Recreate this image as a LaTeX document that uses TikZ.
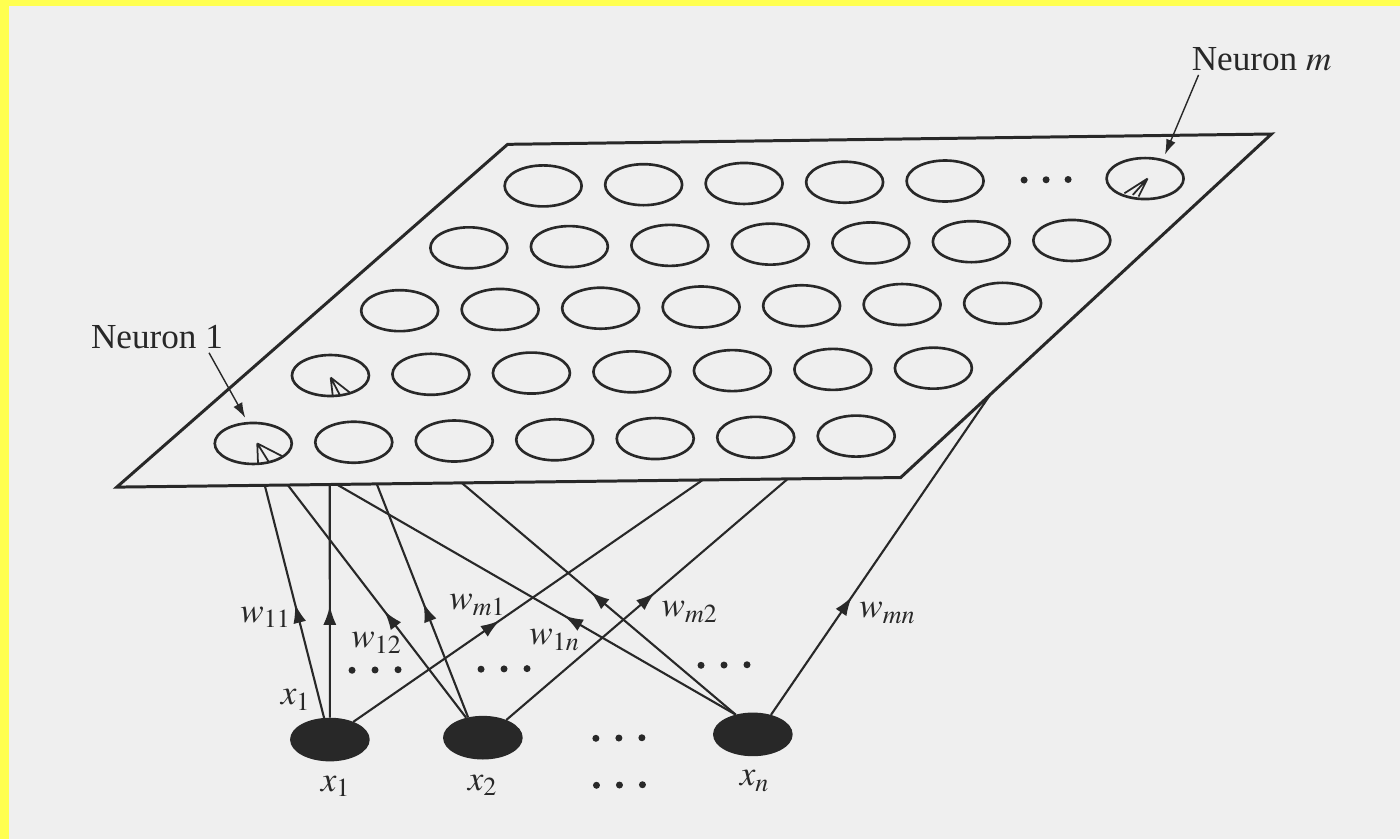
\documentclass[tikz,border=0pt]{standalone}
\usepackage{mathptmx}
\usepackage{fontspec}
\setmainfont{Liberation Serif}
\usetikzlibrary{shapes.geometric,arrows.meta,decorations.markings,calc}

\definecolor{ink}{RGB}{40,40,40}
\definecolor{paper}{RGB}{239,239,239}
\definecolor{scanyellow}{RGB}{255,255,80}

\tikzset{
  neuron/.style={ellipse, draw=ink, line width=0.75pt, minimum width=7.7mm, minimum height=4.1mm, inner sep=0pt},
  input/.style={neuron, fill=ink},
  sheet/.style={draw=ink, line width=0.85pt, line join=miter},
  wire/.style={draw=ink, line width=0.6pt},
  flow/.style={decoration={markings, mark=at position #1 with {\arrow{Latex[length=1.9mm,width=1.3mm]}}}, postaction={decorate}},
  lab/.style={text=ink, font=\fontsize{10}{12}\selectfont, inner sep=1pt},
  pointer/.style={draw=ink, line width=0.4pt, -{Latex[length=1.5mm,width=1mm]}},
  vec/.style={draw=ink, line width=0.5pt},
}

\begin{document}
\begin{tikzpicture}[x=0.1mm, y=-0.1mm]
    % page and scan border
    \fill[paper] (0,0) rectangle (1400,839);
    \fill[scanyellow] (0,0) rectangle (1400,6);
    \fill[scanyellow] (0,0) rectangle (9,839);
    \useasboundingbox (0,0) rectangle (1400,839);

    \begin{scope}[rotate around={0.7:(700,420)}]
    % output sheet
    \coordinate (bl) at (116,480);
    \coordinate (br) at (900,480);
    \coordinate (tr) at (1275,141);
    \coordinate (tl) at (511,142);
    \draw[sheet] (bl) -- (br) -- (tr) -- (tl) -- cycle;

    % neurons, bottom row first
    \foreach \r/\y/\x in {0/438/253, 1/371/331, 2/307/401, 3/245/471}
        \foreach \j in {0,...,6}
            \node[neuron] (n\r\j) at (\x+100.5*\j,\y) {};
    \foreach \j in {0,...,4}
        \node[neuron] (n4\j) at (546+100.5*\j,184) {};
    \node[neuron] (nm) at (1148,184) {};
    \foreach \dx in {-22,0,22}
        \fill[ink] (1049+\dx,184) circle (0.35mm);

    % winning vectors inside the neurons
    \begin{scope}[shift={(n00)}]
        \draw[vec] (4,0) -- (4.5,19.5) (4,0) -- (15.5,19) (4,0) -- (28.6,13);
    \end{scope}
    \begin{scope}[shift={(n10)}]
        \draw[vec] (0.2,2) -- (2,19.5) (0.2,2) -- (8.7,18.7) (0.2,2) -- (18.8,17);
    \end{scope}
    \begin{scope}[shift={(nm)}]
        \draw[vec] (2.6,0) -- (-20.8,14.5) (2.6,0) -- (-12.4,16.2) (2.6,0) -- (-6.7,18);
    \end{scope}

    \node[lab] (lab1) at (158,330) {Neuron 1};
    \node[lab] (labm) at (1266,66) {Neuron $m$};
    \draw[pointer] ([xshift=-1.8mm]lab1.south east) -- ([xshift=-0.8mm,yshift=0.4mm]n00.north);
    \draw[pointer] ([xshift=1.1mm]labm.south west) -- ([xshift=2mm,yshift=0.2mm]nm.north);

    % inputs
    \node[input] (x1) at (326,735) {};
    \node[input] (x2) at (479,735) {};
    \node[input] (xn) at (749,735) {};
    \node[lab] (lx1) at (331.5,781.6) {$x_1$};
    \node[lab] (lx2) at (478.5,782.4) {$x_2$};
    \node[lab] (lxn) at (750.6,781.7) {$x_n$};
    \foreach \dx in {-23,0,23} {
        \fill[ink] (615+\dx,737) circle (0.35mm);
        \fill[ink] (615+\dx,784) circle (0.35mm);
    }

    % weights
    \coordinate (e11) at (264,480);
    \coordinate (e21) at (329,480);
    \coordinate (em1) at (702,480);
    \coordinate (e12) at (287,480);
    \coordinate (e22) at (376,480);
    \coordinate (em2) at (787,480);
    \coordinate (e1n) at (336,480);
    \coordinate (e2n) at (461,480);
    \coordinate (emn) at (990,399);

    \draw[wire, flow=0.49] (x1.105) -- (e11);
    \draw[wire, flow=0.48] (x1.north) -- (e21);
    \draw[wire, flow=0.42] (x1.37) -- (em1);
    \draw[wire, flow=0.46] (x2.130) -- (e12);
    \draw[wire, flow=0.49] (x2.126) -- (e22);
    \draw[wire, flow=0.53] (x2.37) -- (em2);
    \draw[wire, flow=0.43] (xn.131) -- (e1n);
    \draw[wire, flow=0.53] (xn.131) -- (e2n);
    \draw[wire, flow=0.37] (xn.47) -- (emn);

    \node[lab] (w11) at (263.6,611.7) {$w_{11}$};
    \node[lab] (w12) at (374.3,639) {$w_{12}$};
    \node[lab] (wm1) at (475.7,602.3) {$w_{m1}$};
    \node[lab] (w1n) at (552.3,638.2) {$w_{1n}$};
    \node[lab] (wm2) at (687.7,611.9) {$w_{m2}$};
    \node[lab] (wmn) at (885.6,615.3) {$w_{mn}$};
    \node[lab] (xw) at (292.6,695) {$x_1$};
    \foreach \cx/\cy in {372/666, 501/666.5, 721/665.3}
        \foreach \dx in {-23,0,23}
            \fill[ink] (\cx+\dx,\cy) circle (0.35mm);
    \end{scope}
\end{tikzpicture}
\end{document}
